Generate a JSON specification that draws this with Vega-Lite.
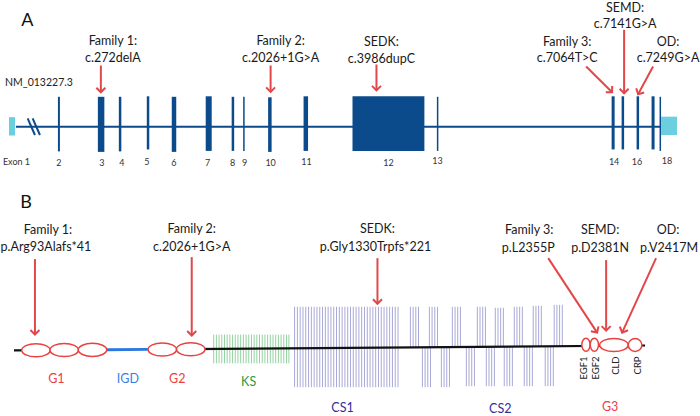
{
  "$schema": "https://vega.github.io/schema/vega-lite/v6.json",
  "width": 700,
  "height": 416,
  "autosize": {"type": "fit", "contains": "padding"},
  "padding": 0,
  "background": "#ffffff",
  "config": {"view": {"stroke": null}, "text": {"font": "Lato"}},
  "resolve": {"scale": {"color": "independent"}},
  "datasets": {
    "repeats": [
      {"d":"KS","x":213.0,"y":337,"y2":366},{"d":"KS","x":215.7,"y":337,"y2":366},{"d":"KS","x":218.4,"y":337,"y2":366},{"d":"KS","x":221.1,"y":337,"y2":366},{"d":"KS","x":223.8,"y":337,"y2":366},{"d":"KS","x":226.5,"y":337,"y2":366},{"d":"KS","x":229.2,"y":337,"y2":366},{"d":"KS","x":231.9,"y":337,"y2":366},{"d":"KS","x":234.6,"y":337,"y2":366},{"d":"KS","x":237.3,"y":337,"y2":366},{"d":"KS","x":240.0,"y":337,"y2":366},{"d":"KS","x":242.7,"y":337,"y2":366},{"d":"KS","x":245.4,"y":337,"y2":366},{"d":"KS","x":248.1,"y":337,"y2":366},{"d":"KS","x":250.8,"y":337,"y2":366},{"d":"KS","x":253.5,"y":337,"y2":366},{"d":"KS","x":256.2,"y":337,"y2":366},{"d":"KS","x":258.9,"y":337,"y2":366},{"d":"KS","x":261.6,"y":337,"y2":366},{"d":"KS","x":264.3,"y":337,"y2":366},{"d":"KS","x":267.0,"y":337,"y2":366},{"d":"KS","x":269.7,"y":337,"y2":366},{"d":"KS","x":272.4,"y":337,"y2":366},{"d":"KS","x":275.1,"y":337,"y2":366},{"d":"KS","x":277.8,"y":337,"y2":366},{"d":"KS","x":280.5,"y":337,"y2":366},{"d":"KS","x":283.2,"y":337,"y2":366},{"d":"KS","x":285.9,"y":337,"y2":366},{"d":"KS","x":288.3,"y":337,"y2":366},
      {"d":"CS","x":294.0,"y":309,"y2":390},{"d":"CS","x":296.8,"y":309,"y2":390},{"d":"CS","x":299.6,"y":309,"y2":390},{"d":"CS","x":302.4,"y":309,"y2":390},{"d":"CS","x":305.2,"y":309,"y2":390},{"d":"CS","x":308.0,"y":309,"y2":390},{"d":"CS","x":310.8,"y":309,"y2":390},{"d":"CS","x":313.6,"y":309,"y2":390},{"d":"CS","x":316.4,"y":309,"y2":390},{"d":"CS","x":319.2,"y":309,"y2":390},{"d":"CS","x":322.0,"y":309,"y2":390},{"d":"CS","x":324.8,"y":309,"y2":390},{"d":"CS","x":327.6,"y":309,"y2":390},{"d":"CS","x":330.4,"y":309,"y2":390},{"d":"CS","x":333.2,"y":309,"y2":390},{"d":"CS","x":336.0,"y":309,"y2":390},{"d":"CS","x":338.8,"y":309,"y2":390},{"d":"CS","x":341.6,"y":309,"y2":390},{"d":"CS","x":344.4,"y":309,"y2":390},{"d":"CS","x":347.2,"y":309,"y2":390},{"d":"CS","x":350.0,"y":309,"y2":390},{"d":"CS","x":352.8,"y":309,"y2":390},{"d":"CS","x":355.6,"y":309,"y2":390},{"d":"CS","x":358.4,"y":309,"y2":390},{"d":"CS","x":361.2,"y":309,"y2":390},{"d":"CS","x":364.0,"y":309,"y2":390},{"d":"CS","x":366.8,"y":309,"y2":390},{"d":"CS","x":369.6,"y":309,"y2":390},{"d":"CS","x":372.4,"y":309,"y2":390},{"d":"CS","x":375.2,"y":309,"y2":390},{"d":"CS","x":378.0,"y":309,"y2":390},{"d":"CS","x":380.8,"y":309,"y2":390},{"d":"CS","x":383.6,"y":309,"y2":390},{"d":"CS","x":386.4,"y":309,"y2":390},{"d":"CS","x":389.2,"y":309,"y2":390},{"d":"CS","x":392.0,"y":309,"y2":390},{"d":"CS","x":394.8,"y":309,"y2":390},{"d":"CS","x":397.6,"y":309,"y2":390},
      {"d":"CS","x":410.0,"y":309,"y2":349.5},{"d":"CS","x":412.7,"y":309,"y2":349.5},{"d":"CS","x":415.4,"y":309,"y2":349.5},{"d":"CS","x":418.1,"y":309,"y2":349.5},
      {"d":"CS","x":429.0,"y":309,"y2":349.5},{"d":"CS","x":431.7,"y":309,"y2":349.5},{"d":"CS","x":434.4,"y":309,"y2":349.5},{"d":"CS","x":437.1,"y":309,"y2":349.5},
      {"d":"CS","x":452.0,"y":309,"y2":349.5},{"d":"CS","x":454.7,"y":309,"y2":349.5},{"d":"CS","x":457.4,"y":309,"y2":349.5},{"d":"CS","x":460.1,"y":309,"y2":349.5},
      {"d":"CS","x":477.0,"y":309,"y2":349.5},{"d":"CS","x":479.7,"y":309,"y2":349.5},{"d":"CS","x":482.4,"y":309,"y2":349.5},{"d":"CS","x":485.1,"y":309,"y2":349.5},
      {"d":"CS","x":495.0,"y":310,"y2":349.5},{"d":"CS","x":497.7,"y":310,"y2":349.5},{"d":"CS","x":500.4,"y":310,"y2":349.5},{"d":"CS","x":503.1,"y":310,"y2":349.5},
      {"d":"CS","x":514.0,"y":309,"y2":349.5},{"d":"CS","x":516.7,"y":309,"y2":349.5},{"d":"CS","x":519.4,"y":309,"y2":349.5},{"d":"CS","x":522.1,"y":309,"y2":349.5},
      {"d":"CS","x":533.0,"y":308,"y2":349.5},{"d":"CS","x":535.7,"y":308,"y2":349.5},{"d":"CS","x":538.4,"y":308,"y2":349.5},{"d":"CS","x":541.1,"y":308,"y2":349.5},
      {"d":"CS","x":554.0,"y":307,"y2":349.5},{"d":"CS","x":556.7,"y":307,"y2":349.5},{"d":"CS","x":559.4,"y":307,"y2":349.5},{"d":"CS","x":562.1,"y":307,"y2":349.5},
      {"d":"CS","x":422.0,"y":349.5,"y2":390},{"d":"CS","x":424.7,"y":349.5,"y2":390},{"d":"CS","x":427.4,"y":349.5,"y2":390},{"d":"CS","x":430.1,"y":349.5,"y2":390},
      {"d":"CS","x":441.0,"y":349.5,"y2":390},{"d":"CS","x":443.7,"y":349.5,"y2":390},{"d":"CS","x":446.4,"y":349.5,"y2":390},{"d":"CS","x":449.1,"y":349.5,"y2":390},
      {"d":"CS","x":466.0,"y":349.5,"y2":389},{"d":"CS","x":468.7,"y":349.5,"y2":389},{"d":"CS","x":471.4,"y":349.5,"y2":389},{"d":"CS","x":474.1,"y":349.5,"y2":389},
      {"d":"CS","x":486.0,"y":349.5,"y2":389},{"d":"CS","x":488.7,"y":349.5,"y2":389},{"d":"CS","x":491.4,"y":349.5,"y2":389},{"d":"CS","x":494.1,"y":349.5,"y2":389},
      {"d":"CS","x":504.0,"y":349.5,"y2":389},{"d":"CS","x":506.7,"y":349.5,"y2":389},{"d":"CS","x":509.4,"y":349.5,"y2":389},{"d":"CS","x":512.1,"y":349.5,"y2":389},
      {"d":"CS","x":524.0,"y":349.5,"y2":389},{"d":"CS","x":526.7,"y":349.5,"y2":389},{"d":"CS","x":529.4,"y":349.5,"y2":389},{"d":"CS","x":532.1,"y":349.5,"y2":389},
      {"d":"CS","x":545.0,"y":349.5,"y2":389},{"d":"CS","x":547.7,"y":349.5,"y2":389},{"d":"CS","x":550.4,"y":349.5,"y2":389},{"d":"CS","x":553.1,"y":349.5,"y2":389}
    ],
    "segments": [
      {"part":"A","x":15,"y":127.7,"x2":660,"y2":127.7},
      {"part":"A","x":26.7,"y":119.3,"x2":34,"y2":136},
      {"part":"A","x":31.7,"y":119.3,"x2":39,"y2":136},
      {"part":"B","x":13,"y":353,"x2":106,"y2":352.3},
      {"part":"B","x":147,"y":352,"x2":645,"y2":348},
      {"part":"IGD","x":106,"y":352.3,"x2":147,"y2":352}
    ],
    "exons": [
      {"exon":"1","kind":"UTR","x":8,"x2":14,"y":118,"y2":136.5},
      {"exon":"2","kind":"coding","x":57,"x2":59,"y":97.5,"y2":152.5},
      {"exon":"3","kind":"coding","x":97,"x2":103.5,"y":97.5,"y2":153},
      {"exon":"4","kind":"coding","x":118,"x2":120.5,"y":97.5,"y2":152.5},
      {"exon":"5","kind":"coding","x":146,"x2":148.5,"y":97,"y2":150.5},
      {"exon":"6","kind":"coding","x":171,"x2":175.5,"y":97.5,"y2":153},
      {"exon":"7","kind":"coding","x":205,"x2":211,"y":97,"y2":152},
      {"exon":"8","kind":"coding","x":231,"x2":233.5,"y":97.5,"y2":152},
      {"exon":"9","kind":"coding","x":242.5,"x2":244,"y":97.5,"y2":152},
      {"exon":"10","kind":"coding","x":267.5,"x2":271,"y":98,"y2":153},
      {"exon":"11","kind":"coding","x":303,"x2":307.5,"y":97,"y2":152},
      {"exon":"12","kind":"coding","x":352,"x2":424,"y":97,"y2":152},
      {"exon":"13","kind":"coding","x":436.5,"x2":438,"y":97.5,"y2":152},
      {"exon":"14","kind":"coding","x":611.5,"x2":614.5,"y":97,"y2":150.5},
      {"exon":"15","kind":"coding","x":621.5,"x2":624,"y":97,"y2":150.5},
      {"exon":"16","kind":"coding","x":636.5,"x2":639,"y":97,"y2":150.5},
      {"exon":"17","kind":"coding","x":651.5,"x2":654.5,"y":97,"y2":150.5},
      {"exon":"18","kind":"coding","x":659.5,"x2":661,"y":97.5,"y2":152},
      {"exon":"18 UTR","kind":"UTR","x":661,"x2":677,"y":117.5,"y2":136}
    ],
    "arrows": [
      {"to":"A Family 1","x":100,"y":66,"x2":100,"y2":93,"dir":0},
      {"to":"A Family 2","x":270,"y":66,"x2":270,"y2":92.5,"dir":0},
      {"to":"A SEDK","x":376,"y":65,"x2":376,"y2":91,"dir":0},
      {"to":"A Family 3","x":586,"y":67,"x2":612,"y2":93,"dir":315},
      {"to":"A SEMD","x":624,"y":30,"x2":624,"y2":94,"dir":0},
      {"to":"A OD","x":653,"y":67,"x2":638,"y2":95,"dir":28},
      {"to":"B Family 1","x":34,"y":261,"x2":34,"y2":337,"dir":0},
      {"to":"B Family 2","x":191,"y":259,"x2":191,"y2":338,"dir":0},
      {"to":"B SEDK","x":377,"y":260,"x2":377,"y2":306,"dir":0},
      {"to":"B Family 3","x":548,"y":260,"x2":597,"y2":335,"dir":327},
      {"to":"B SEMD","x":606,"y":262,"x2":606,"y2":333,"dir":0},
      {"to":"B OD","x":656,"y":260,"x2":622,"y2":335,"dir":24}
    ]
  },
  "layer": [
    {
      "data": {"name": "repeats"},
      "mark": {"type": "rule", "strokeWidth": 1},
      "encoding": {
        "x": {"field": "x", "type": "quantitative", "scale": {"domain": [0, 700], "nice": false, "zero": false}, "axis": null},
        "y": {"field": "y", "type": "quantitative", "scale": {"domain": [0, 416], "nice": false, "zero": false, "reverse": true}, "axis": null},
        "y2": {"field": "y2"},
        "color": {"field": "d", "type": "nominal", "scale": {"domain": ["KS", "CS"], "range": ["#93d3a0", "#a9a9d8"]}, "legend": null}
      }
    },
    {
      "data": {"name": "segments"},
      "transform": [{"filter": "datum.part === 'A'"}],
      "mark": {"type": "rule", "color": "#0b4a8b", "strokeWidth": 2},
      "encoding": {
        "x": {"field": "x", "type": "quantitative", "axis": null},
        "y": {"field": "y", "type": "quantitative", "axis": null},
        "x2": {"field": "x2"},
        "y2": {"field": "y2"}
      }
    },
    {
      "data": {"name": "segments"},
      "transform": [{"filter": "datum.part === 'B'"}],
      "mark": {"type": "rule", "color": "#111111", "strokeWidth": 2.2},
      "encoding": {
        "x": {"field": "x", "type": "quantitative", "axis": null},
        "y": {"field": "y", "type": "quantitative", "axis": null},
        "x2": {"field": "x2"},
        "y2": {"field": "y2"}
      }
    },
    {
      "data": {"name": "segments"},
      "transform": [{"filter": "datum.part === 'IGD'"}],
      "mark": {"type": "rule", "color": "#2a78e0", "strokeWidth": 2.8},
      "encoding": {
        "x": {"field": "x", "type": "quantitative", "axis": null},
        "y": {"field": "y", "type": "quantitative", "axis": null},
        "x2": {"field": "x2"},
        "y2": {"field": "y2"}
      }
    },
    {
      "data": {"name": "exons"},
      "mark": {"type": "rect"},
      "encoding": {
        "x": {"field": "x", "type": "quantitative", "axis": null},
        "x2": {"field": "x2"},
        "y": {"field": "y", "type": "quantitative", "axis": null},
        "y2": {"field": "y2"},
        "color": {"field": "kind", "type": "nominal", "scale": {"domain": ["coding", "UTR"], "range": ["#0b4a8b", "#6ccfe0"]}, "legend": null}
      }
    },
    {
      "data": {"values": [
        {"dom":"G1","x":35,"y":352.8},{"dom":"G1","x":63.3,"y":352.6},{"dom":"G1","x":91.6,"y":352.4},
        {"dom":"G2","x":161.5,"y":352},{"dom":"G2","x":190,"y":351.8},
        {"dom":"CLD","x":613.8,"y":347.5}
      ]},
      "mark": {"type": "point", "shape": "M-1,0A1,0.46,0,1,0,1,0A1,0.46,0,1,0,-1,0Z", "size": 812, "fill": "#ffffff", "stroke": "#e8413f", "strokeWidth": 1.5, "opacity": 1},
      "encoding": {
        "x": {"field": "x", "type": "quantitative", "axis": null},
        "y": {"field": "y", "type": "quantitative", "axis": null}
      }
    },
    {
      "data": {"values": [
        {"dom":"EGF1","x":585.8,"y":347.3},{"dom":"EGF2","x":594.2,"y":347.3}
      ]},
      "mark": {"type": "point", "shape": "M0,-1A0.64,1,0,1,0,0,1A0.64,1,0,1,0,0,-1Z", "size": 169, "fill": "#ffffff", "stroke": "#e8413f", "strokeWidth": 1.5, "opacity": 1},
      "encoding": {
        "x": {"field": "x", "type": "quantitative", "axis": null},
        "y": {"field": "y", "type": "quantitative", "axis": null}
      }
    },
    {
      "data": {"values": [{"dom":"CRP","x":635,"y":347.5}]},
      "mark": {"type": "point", "shape": "M-1,0A1,0.95,0,1,0,1,0A1,0.95,0,1,0,-1,0Z", "size": 185, "fill": "#ffffff", "stroke": "#e8413f", "strokeWidth": 1.5, "opacity": 1},
      "encoding": {
        "x": {"field": "x", "type": "quantitative", "axis": null},
        "y": {"field": "y", "type": "quantitative", "axis": null}
      }
    },
    {
      "data": {"name": "arrows"},
      "mark": {"type": "rule", "color": "#e2474a", "strokeWidth": 2},
      "encoding": {
        "x": {"field": "x", "type": "quantitative", "axis": null},
        "y": {"field": "y", "type": "quantitative", "axis": null},
        "x2": {"field": "x2"},
        "y2": {"field": "y2"}
      }
    },
    {
      "data": {"name": "arrows"},
      "mark": {"type": "point", "shape": "M-1,-1L0,0L1,-1", "size": 81, "filled": false, "stroke": "#e2474a", "strokeWidth": 2, "opacity": 1},
      "encoding": {
        "x": {"field": "x2", "type": "quantitative", "axis": null},
        "y": {"field": "y2", "type": "quantitative", "axis": null},
        "angle": {"field": "dir", "type": "quantitative", "scale": null}
      }
    },
    {
      "data": {"values": [
        {"t":"Family 1:","x":112,"y":41},{"t":"c.272delA","x":112,"y":58},
        {"t":"Family 2:","x":280,"y":41},{"t":"c.2026+1G>A","x":280,"y":58},
        {"t":"SEDK:","x":381,"y":42},{"t":"c.3986dupC","x":381,"y":59},
        {"t":"SEMD:","x":625,"y":8},{"t":"c.7141G>A","x":625,"y":24},
        {"t":"Family 3:","x":567,"y":42},{"t":"c.7064T>C","x":567,"y":58},
        {"t":"OD:","x":668,"y":42},{"t":"c.7249G>A","x":668,"y":58},
        {"t":"Family 1:","x":47,"y":232},{"t":"p.Arg93Alafs*41","x":45,"y":249},
        {"t":"Family 2:","x":191,"y":231},{"t":"c.2026+1G>A","x":191,"y":249},
        {"t":"SEDK:","x":377,"y":231},{"t":"p.Gly1330Trpfs*221","x":375,"y":249},
        {"t":"Family 3:","x":529,"y":232},{"t":"p.L2355P","x":528,"y":250},
        {"t":"SEMD:","x":600,"y":232},{"t":"p.D2381N","x":600,"y":250},
        {"t":"OD:","x":668,"y":232},{"t":"p.V2417M","x":669,"y":250}
      ]},
      "mark": {"type": "text", "font": "Lato", "fontSize": 12.5, "color": "#1a1a1a", "align": "center", "baseline": "middle"},
      "encoding": {
        "x": {"field": "x", "type": "quantitative", "axis": null},
        "y": {"field": "y", "type": "quantitative", "axis": null},
        "text": {"field": "t"}
      }
    },
    {
      "data": {"values": [
        {"t":"Exon 1","x":15.5,"y":163},{"t":"2","x":58,"y":164},{"t":"3","x":101,"y":164},{"t":"4","x":121,"y":164},
        {"t":"5","x":146,"y":163},{"t":"6","x":173,"y":164},{"t":"7","x":207,"y":164},{"t":"8","x":232,"y":164},
        {"t":"9","x":244,"y":164},{"t":"10","x":270,"y":164},{"t":"11","x":306,"y":163},{"t":"12","x":388,"y":164},
        {"t":"13","x":437,"y":162},{"t":"14","x":614,"y":163},{"t":"16","x":637,"y":163},{"t":"18","x":667,"y":162}
      ]},
      "mark": {"type": "text", "font": "Lato", "fontSize": 9, "color": "#333333", "align": "center", "baseline": "middle"},
      "encoding": {
        "x": {"field": "x", "type": "quantitative", "axis": null},
        "y": {"field": "y", "type": "quantitative", "axis": null},
        "text": {"field": "t"}
      }
    },
    {
      "data": {"values": [{"t":"NM_013227.3","x":38,"y":84}]},
      "mark": {"type": "text", "font": "Lato", "fontSize": 10.5, "color": "#222222", "align": "center", "baseline": "middle"},
      "encoding": {
        "x": {"field": "x", "type": "quantitative", "axis": null},
        "y": {"field": "y", "type": "quantitative", "axis": null},
        "text": {"field": "t"}
      }
    },
    {
      "data": {"values": [{"t":"A","x":26.5,"y":21},{"t":"B","x":25,"y":204}]},
      "mark": {"type": "text", "font": "Lato", "fontSize": 18, "color": "#111111", "align": "center", "baseline": "middle"},
      "encoding": {
        "x": {"field": "x", "type": "quantitative", "axis": null},
        "y": {"field": "y", "type": "quantitative", "axis": null},
        "text": {"field": "t"}
      }
    },
    {
      "data": {"values": [
        {"t":"G1","dom":"G","x":55.5,"y":382},{"t":"IGD","dom":"IGD","x":127,"y":382},{"t":"G2","dom":"G","x":176.5,"y":382},
        {"t":"KS","dom":"KS","x":248,"y":385},{"t":"CS1","dom":"CS","x":342,"y":411},{"t":"CS2","dom":"CS","x":500,"y":412},
        {"t":"G3","dom":"G","x":610,"y":410}
      ]},
      "mark": {"type": "text", "font": "Lato", "fontSize": 12.5, "align": "center", "baseline": "middle"},
      "encoding": {
        "x": {"field": "x", "type": "quantitative", "axis": null},
        "y": {"field": "y", "type": "quantitative", "axis": null},
        "text": {"field": "t"},
        "color": {"field": "dom", "type": "nominal", "scale": {"domain": ["G", "IGD", "KS", "CS"], "range": ["#e8413f", "#3a7fdc", "#2f9a3a", "#2f2f99"]}, "legend": null}
      }
    },
    {
      "data": {"values": [
        {"t":"EGF1","x":583.5,"y":359},{"t":"EGF2","x":596,"y":359},{"t":"CLD","x":615.5,"y":359},{"t":"CRP","x":637.5,"y":359}
      ]},
      "mark": {"type": "text", "font": "Lato", "fontSize": 9.5, "color": "#222222", "angle": 270, "align": "right", "baseline": "middle"},
      "encoding": {
        "x": {"field": "x", "type": "quantitative", "axis": null},
        "y": {"field": "y", "type": "quantitative", "axis": null},
        "text": {"field": "t"}
      }
    }
  ]
}
